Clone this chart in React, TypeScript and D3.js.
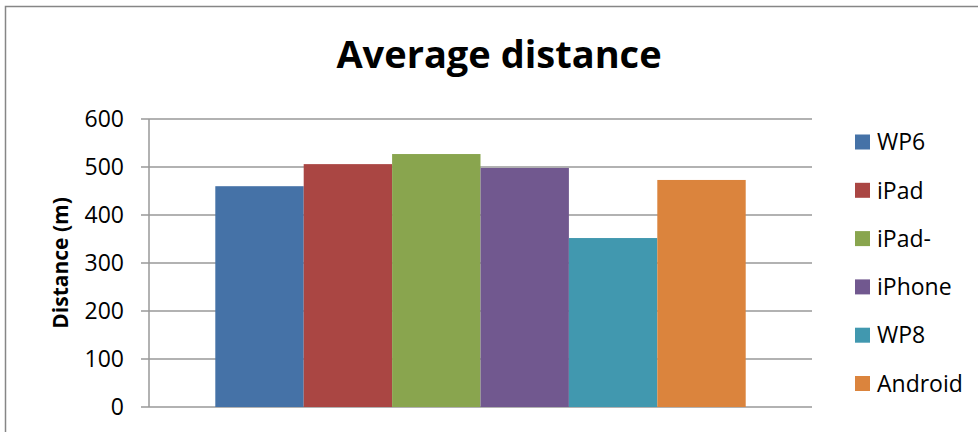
import React from 'react'
import * as d3 from 'd3'

// chart data
const seriesNames = ['WP6', 'iPad', 'iPad-', 'iPhone', 'WP8', 'Android']
const seriesValues = [460, 506, 527, 498, 352, 473]
const seriesColors = ['#4572A7', '#AA4643', '#89A54E', '#71588F', '#4198AF', '#DB843D']
const yTicks = [0, 100, 200, 300, 400, 500, 600]
const chartTitle = 'Average distance'
const yAxisTitle = 'Distance (m)'

const WIDTH = 978
const HEIGHT = 432
const FONT = '"Open Sans", "Noto Sans", sans-serif'

const plot = { left: 149, right: 812, top: 119, bottom: 407 }

export default function App () {
    const y = d3.scaleLinear().domain([0, 600]).range([plot.bottom, plot.top])
    // one category, six series side by side, Excel style 150% gap
    const x = d3.scaleBand<string>()
        .domain(seriesNames)
        .range([plot.left, plot.right])
        .paddingInner(0)
        .paddingOuter(0.75)

    return (
        <svg
            width={WIDTH}
            height={HEIGHT}
            style={{ position: 'fixed', left: 0, top: 0, background: '#fff' }}
        >
            {/* chart frame */}
            <rect x={5.5} y={6.5} width={WIDTH + 10} height={HEIGHT + 10} fill="#fff" stroke="#868686" strokeWidth={1.5} />

            <text
                x={499}
                y={68}
                textAnchor="middle"
                fontFamily={FONT}
                fontWeight="bold"
                fontSize={38}
                fill="#000"
            >
                {chartTitle}
            </text>

            {/* gridlines */}
            <g>
                {yTicks.map((t) => (
                    <line
                        key={t}
                        x1={plot.left - 8}
                        x2={plot.right}
                        y1={y(t)}
                        y2={y(t)}
                        stroke="#999"
                        strokeWidth={1.5}
                    />
                ))}
            </g>

            {/* bars */}
            <g>
                {seriesNames.map((name, i) => (
                    <rect
                        key={name}
                        x={x(name)}
                        y={y(seriesValues[i])}
                        width={x.bandwidth()}
                        height={plot.bottom - y(seriesValues[i])}
                        fill={seriesColors[i]}
                    />
                ))}
            </g>

            {/* y axis */}
            <line x1={plot.left} x2={plot.left} y1={plot.top} y2={plot.bottom} stroke="#999" strokeWidth={1.5} />
            <g fontFamily={FONT} fontSize={23} fill="#000">
                {yTicks.map((t) => (
                    <text key={t} x={124} y={y(t)} dy="0.36em" textAnchor="end">
                        {t}
                    </text>
                ))}
            </g>
            <text
                transform={`translate(60, 263) rotate(-90)`}
                textAnchor="middle"
                dy="0.36em"
                fontFamily={FONT}
                fontWeight="bold"
                fontSize={21}
                fill="#000"
            >
                {yAxisTitle}
            </text>

            {/* legend */}
            <g fontFamily={FONT} fontSize={23} fill="#000">
                {seriesNames.map((name, i) => (
                    <g key={name} transform={`translate(855, ${142 + i * 48.3})`}>
                        <rect x={0} y={-7.5} width={15} height={15} fill={seriesColors[i]} />
                        <text x={22} y={0} dy="0.36em">{name}</text>
                    </g>
                ))}
            </g>
        </svg>
    )
}
